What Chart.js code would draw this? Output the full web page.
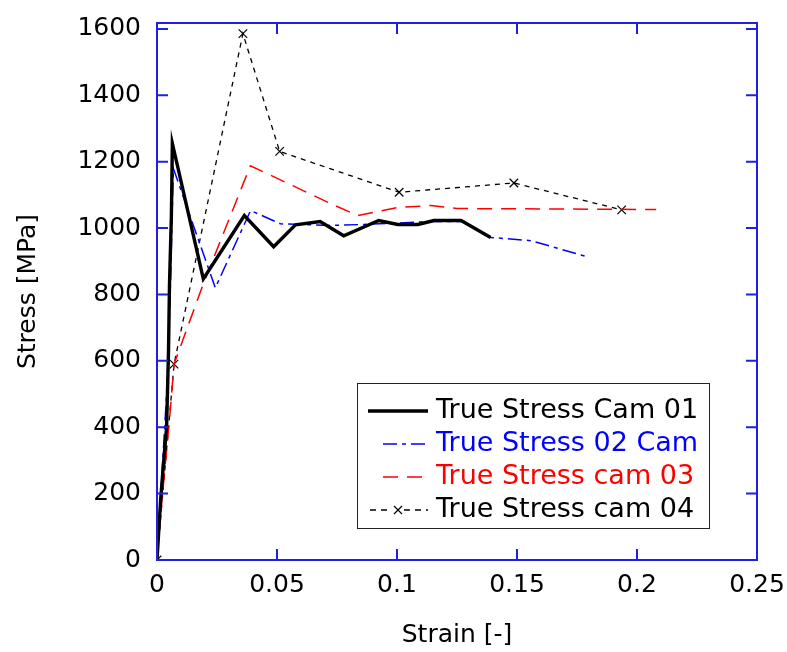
<!DOCTYPE html>
<html>
<head>
<meta charset="utf-8">
<script src="https://cdn.jsdelivr.net/npm/chart.js@4"></script>
<style>
  html, body { margin: 0; padding: 0; background: #fff; }
  #wrap { width: 787px; height: 652px; }
</style>
</head>
<body>
<div id="wrap"><canvas id="stressChart" width="787" height="652"></canvas></div>
<script>
// data
const cam01Strain = [0, 0.0015, 0.0027, 0.004, 0.0048, 0.0052, 0.006, 0.0064, 0.0193, 0.0364, 0.0486, 0.0577, 0.068, 0.0778, 0.0924, 0.1003, 0.1087, 0.1154, 0.1267, 0.139];
const cam01Stress = [0, 180, 290, 400, 630, 830, 1040, 1255, 847, 1038, 944, 1010, 1020, 977, 1023, 1011, 1011, 1023, 1023, 972];

const cam02Strain = [0, 0.002, 0.004, 0.0055, 0.0068, 0.0243, 0.039, 0.0514, 0.0723, 0.0861, 0.1, 0.115, 0.127, 0.139, 0.156, 0.179];
const cam02Stress = [0, 250, 500, 800, 1180, 820, 1053, 1013, 1008, 1011, 1015, 1020, 1020, 972, 962, 914];

const cam03Strain = [0, 0.0013, 0.0054, 0.0071, 0.0192, 0.0389, 0.0723, 0.0836, 0.1003, 0.114, 0.125, 0.208];
const cam03Stress = [0, 120, 440, 590, 830, 1188, 1074, 1038, 1062, 1068, 1059, 1056];

const cam04Strain = [0, 0.0071, 0.0358, 0.0511, 0.1009, 0.1487, 0.1936];
const cam04Stress = [0, 590, 1586, 1231, 1108, 1136, 1055];

const seriesLabels = ['True Stress Cam 01', 'True Stress 02 Cam', 'True Stress cam 03', 'True Stress cam 04'];

const xTicks = [0, 0.05, 0.1, 0.15, 0.2, 0.25];
const xTickLabels = ['0', '0.05', '0.1', '0.15', '0.2', '0.25'];
const yTicks = [0, 200, 400, 600, 800, 1000, 1200, 1400, 1600];
const yTickLabels = ['0', '200', '400', '600', '800', '1000', '1200', '1400', '1600'];
const xMax = 0.25;
const yMax = 1618;

const axisBlue = '#1f1fe6';
const fontFamily = '"DejaVu Sans", Arial, sans-serif';

function points(xs, ys) {
    return xs.map((x, i) => ({ x: x, y: ys[i] }));
}

// drop the label overhang so the plot box lands where the layout padding says
function noOverhang(scale) {
    scale.paddingTop = 0;
    scale.paddingBottom = 0;
    scale.paddingLeft = 0;
    scale.paddingRight = 0;
}

// matlab style box with inward ticks on all four sides
const framePlugin = {
    id: 'frame',
    afterDatasetsDraw(chart) {
        const ctx = chart.ctx;
        const a = chart.chartArea;
        const xs = chart.scales.x;
        const ys = chart.scales.y;
        const len = 11;
        ctx.save();
        ctx.strokeStyle = axisBlue;
        ctx.lineWidth = 2;
        ctx.strokeRect(a.left, a.top, a.right - a.left, a.bottom - a.top);
        ctx.beginPath();
        xTicks.forEach(v => {
            const px = xs.getPixelForValue(v);
            ctx.moveTo(px, a.bottom);
            ctx.lineTo(px, a.bottom - len);
            ctx.moveTo(px, a.top);
            ctx.lineTo(px, a.top + len);
        });
        yTicks.forEach(v => {
            const py = ys.getPixelForValue(v);
            ctx.moveTo(a.left, py);
            ctx.lineTo(a.left + len, py);
            ctx.moveTo(a.right, py);
            ctx.lineTo(a.right - len, py);
        });
        ctx.stroke();
        ctx.restore();
    }
};

const legendPlugin = {
    id: 'boxLegend',
    afterDraw(chart) {
        const ctx = chart.ctx;
        const box = { x: 357, y: 383, w: 352, h: 145 };
        const rows = [411, 444, 477, 510];
        const textColors = ['#000000', '#0000ff', '#ff0000', '#000000'];
        ctx.save();
        ctx.fillStyle = '#ffffff';
        ctx.fillRect(box.x, box.y, box.w, box.h);
        ctx.strokeStyle = '#222222';
        ctx.lineWidth = 1;
        ctx.strokeRect(box.x + 0.5, box.y + 0.5, box.w, box.h);

        chart.data.datasets.forEach((ds, i) => {
            const y = rows[i];
            ctx.save();
            ctx.strokeStyle = ds.borderColor;
            ctx.lineWidth = ds.borderWidth;
            ctx.setLineDash(ds.borderDash || []);
            ctx.beginPath();
            if (i === 0) {
                ctx.moveTo(368, y); ctx.lineTo(428, y);
            } else if (i === 3) {
                ctx.setLineDash([6, 5]);
                ctx.moveTo(370, y); ctx.lineTo(392, y);
                ctx.moveTo(404, y); ctx.lineTo(428, y);
            } else {
                ctx.moveTo(383, y); ctx.lineTo(428, y);
            }
            ctx.stroke();
            if (i === 3) {
                ctx.setLineDash([]);
                ctx.lineWidth = 1.2;
                ctx.beginPath();
                ctx.moveTo(394, y - 4); ctx.lineTo(402, y + 4);
                ctx.moveTo(402, y - 4); ctx.lineTo(394, y + 4);
                ctx.stroke();
            }
            ctx.restore();

            ctx.fillStyle = textColors[i];
            ctx.font = '27px ' + fontFamily;
            ctx.textBaseline = 'middle';
            ctx.textAlign = 'left';
            ctx.fillText(ds.label, 436, y);
        });
        ctx.restore();
    }
};

const ctx = document.getElementById('stressChart').getContext('2d');

const stressChart = new Chart(ctx, {
    type: 'line',
    data: {
        datasets: [{
            label: seriesLabels[0],
            data: points(cam01Strain, cam01Stress),
            borderColor: '#000000',
            borderWidth: 3.4,
            pointRadius: 0
        }, {
            label: seriesLabels[1],
            data: points(cam02Strain, cam02Stress),
            borderColor: '#0000ff',
            borderWidth: 1.5,
            borderDash: [14, 5, 4, 5],
            pointRadius: 0
        }, {
            label: seriesLabels[2],
            data: points(cam03Strain, cam03Stress),
            borderColor: '#ff0000',
            borderWidth: 1.5,
            borderDash: [15, 9],
            pointRadius: 0
        }, {
            label: seriesLabels[3],
            data: points(cam04Strain, cam04Stress),
            borderColor: '#000000',
            borderWidth: 1.3,
            borderDash: [5, 5],
            pointStyle: 'crossRot',
            pointRadius: 6,
            pointBorderWidth: 1.2,
            pointBorderColor: '#000000'
        }]
    },
    options: {
        responsive: false,
        animation: false,
        devicePixelRatio: 1,
        layout: {
            padding: { left: 0, right: 30, top: 23, bottom: 0 }
        },
        plugins: {
            legend: { display: false },
            tooltip: { enabled: false }
        },
        elements: {
            line: { tension: 0, fill: false }
        },
        scales: {
            x: {
                type: 'linear',
                min: 0,
                max: xMax,
                afterBuildTicks: scale => { scale.ticks = xTicks.map(v => ({ value: v })); },
                afterFit: scale => { scale.height = 92; noOverhang(scale); },
                grid: { display: false, drawTicks: false },
                border: { display: false },
                ticks: {
                    padding: 10,
                    color: '#000',
                    font: { family: fontFamily, size: 25 },
                    maxRotation: 0,
                    callback: (value, index) => xTickLabels[index]
                },
                title: {
                    display: true,
                    text: 'Strain [-]',
                    color: '#000',
                    font: { family: fontFamily, size: 25 },
                    padding: { top: 0, bottom: 2 }
                }
            },
            y: {
                type: 'linear',
                min: 0,
                max: yMax,
                afterBuildTicks: scale => { scale.ticks = yTicks.map(v => ({ value: v })); },
                afterFit: scale => { scale.width = 157; noOverhang(scale); },
                grid: { display: false, drawTicks: false },
                border: { display: false },
                ticks: {
                    padding: 16,
                    color: '#000',
                    font: { family: fontFamily, size: 25 },
                    callback: (value, index) => yTickLabels[index]
                },
                title: {
                    display: true,
                    text: 'Stress [MPa]',
                    color: '#000',
                    font: { family: fontFamily, size: 25 },
                    padding: { top: 13, bottom: 0 }
                }
            }
        }
    },
    plugins: [framePlugin, legendPlugin]
});
</script>
</body>
</html>
